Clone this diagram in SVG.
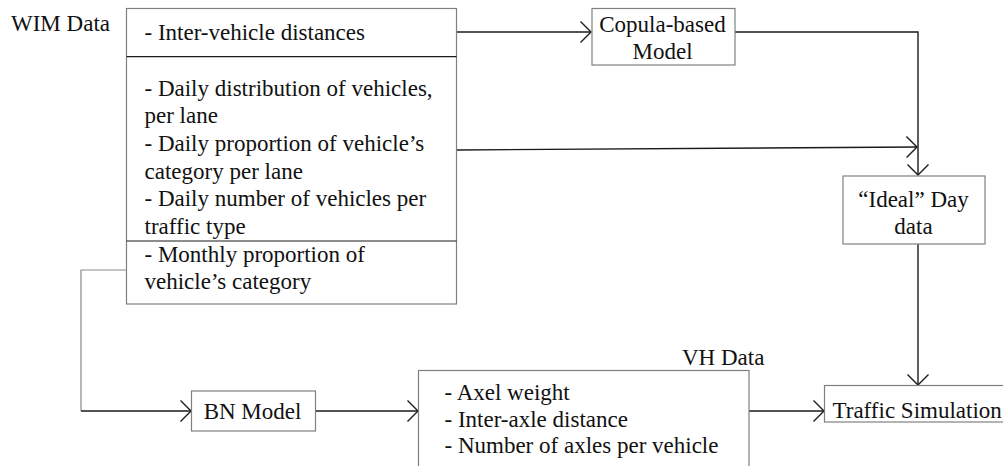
<svg xmlns="http://www.w3.org/2000/svg" width="1003" height="466" viewBox="0 0 1003 466">
<style>
.box{fill:#fff;stroke:#808080;stroke-width:1.2}
.div{stroke:#1a1a1a;stroke-width:1.2}
.t{font-size:23px;fill:#111}
.c{text-anchor:middle}
.ln{fill:none;stroke:#1a1a1a;stroke-width:1.4}
.gl{fill:none;stroke:#8a8a8a;stroke-width:1.2}
</style>
<defs>
<marker id="ah" markerUnits="userSpaceOnUse" viewBox="0 0 13 24" refX="12" refY="12" markerWidth="13" markerHeight="24" orient="auto">
<path d="M1.5,1.5 L12,12 L1.5,22.5" fill="none" stroke="#1a1a1a" stroke-width="1.4"/>
</marker>
</defs>
<rect width="1003" height="466" fill="#fff"/>

<g id="connectors">
<path class="ln" d="M456,32 L591,32" marker-end="url(#ah)"/>
<path class="ln" d="M735,32 L918,32 L918,175" marker-end="url(#ah)"/>
<path class="ln" d="M456,150 L917,147" marker-end="url(#ah)"/>
<path class="ln" d="M918,244 L918,385" marker-end="url(#ah)"/>
<path class="gl" d="M126,270 L81,270 L81,411"/>
<path class="ln" d="M81,411 L191,411" marker-end="url(#ah)"/>
<path class="ln" d="M316,411 L418,411" marker-end="url(#ah)"/>
<path class="ln" d="M749,411 L824,411" marker-end="url(#ah)"/>
</g>

<g font-family="Liberation Serif">
<g id="wim-label">
<text class="t" x="11" y="31">WIM Data</text>
</g>

<g id="wim-data">
<rect class="box" x="126.5" y="8.5" width="330" height="295.5"/>
<line class="div" x1="126.5" y1="56.7" x2="456.5" y2="56.7"/>
<line class="div" x1="126.5" y1="241" x2="456.5" y2="241"/>
<text class="t" x="144.5" y="39.5">- Inter-vehicle distances</text>
<text class="t" x="144.5" y="95.5">- Daily distribution of vehicles,</text>
<text class="t" x="144.5" y="123.2">per lane</text>
<text class="t" x="144.5" y="150.9">- Daily proportion of vehicle’s</text>
<text class="t" x="144.5" y="178.6">category per lane</text>
<text class="t" x="144.5" y="206.3">- Daily number of vehicles per</text>
<text class="t" x="144.5" y="234">traffic type</text>
<text class="t" x="144.5" y="261.7">- Monthly proportion of</text>
<text class="t" x="144.5" y="289.4">vehicle’s category</text>
</g>

<g id="copula">
<rect class="box" x="592" y="8.5" width="143" height="56.5"/>
<text class="t c" x="662.5" y="32">Copula-based</text>
<text class="t c" x="662.5" y="58.5">Model</text>
</g>

<g id="ideal-day">
<rect class="box" x="843" y="176" width="142" height="68"/>
<text class="t c" x="913.5" y="207">“Ideal” Day</text>
<text class="t c" x="913.5" y="233.5">data</text>
</g>

<g id="bn-model">
<rect class="box" x="191.5" y="391" width="124" height="40"/>
<text class="t c" x="252.5" y="419">BN Model</text>
</g>

<g id="vh-label">
<text class="t" x="682" y="365">VH Data</text>
</g>

<g id="vh-data">
<rect class="box" x="418.5" y="370.5" width="330.5" height="110"/>
<text class="t" x="444.5" y="400">- Axel weight</text>
<text class="t" x="444.5" y="426.5">- Inter-axle distance</text>
<text class="t" x="444.5" y="453">- Number of axles per vehicle</text>
</g>

<g id="traffic-simulation">
<rect class="box" x="824.5" y="385.5" width="190" height="36.5"/>
<text class="t" x="832.5" y="418">Traffic Simulation</text>
</g>
</g>
</svg>
